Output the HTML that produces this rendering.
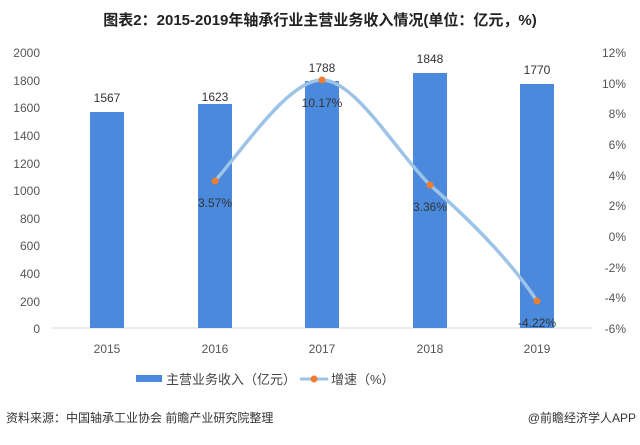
<!DOCTYPE html>
<html><head><meta charset="utf-8"><style>
body{margin:0;background:#fff;}
svg text{font-family:"Liberation Sans","Noto Sans CJK SC",sans-serif;}
</style></head><body>
<svg width="640" height="440" viewBox="0 0 640 440" xmlns="http://www.w3.org/2000/svg">
<rect width="640" height="440" fill="#fff"/>
<text x="320" y="25" text-anchor="middle" font-size="15" font-weight="bold" fill="#222">图表2：2015-2019年轴承行业主营业务收入情况(单位：亿元，%)</text>
<g font-size="12" fill="#555" text-anchor="end">
<text x="40" y="57">2000</text><text x="40" y="85">1800</text><text x="40" y="112">1600</text>
<text x="40" y="140">1400</text><text x="40" y="168">1200</text><text x="40" y="195">1000</text>
<text x="40" y="223">800</text><text x="40" y="250">600</text><text x="40" y="278">400</text>
<text x="40" y="306">200</text><text x="40" y="333">0</text>
</g>
<g font-size="12" fill="#555" text-anchor="end">
<text x="626" y="57">12%</text><text x="626" y="88">10%</text><text x="626" y="118">8%</text>
<text x="626" y="149">6%</text><text x="626" y="180">4%</text><text x="626" y="210">2%</text>
<text x="626" y="241">0%</text><text x="626" y="272">-2%</text><text x="626" y="302">-4%</text>
<text x="626" y="333">-6%</text>
</g>
<line x1="52" y1="328" x2="592" y2="328" stroke="#d9d9d9" stroke-width="1"/>
<g fill="#4a89dc">
<rect x="90" y="112" width="34" height="216"/>
<rect x="198" y="104" width="34" height="224"/>
<rect x="305" y="81" width="34" height="247"/>
<rect x="413" y="73" width="34" height="255"/>
<rect x="520" y="84" width="34" height="244"/>
</g>
<g font-size="12" fill="#333" text-anchor="middle">
<text x="107" y="102">1567</text><text x="215" y="101">1623</text><text x="322" y="72">1788</text>
<text x="430" y="63">1848</text><text x="537" y="74">1770</text>
</g>
<path d="M215,181 C250,140 290,80 322,80 C355,80 395,150 430,185 C470,220 510,260 537,301" fill="none" stroke="#9dc3e6" stroke-width="3.5" stroke-linecap="round"/>
<g fill="#ed7d31">
<circle cx="215" cy="181" r="3.5"/><circle cx="322" cy="80" r="3.5"/>
<circle cx="430" cy="185" r="3.5"/><circle cx="537" cy="301" r="3.5"/>
</g>
<g font-size="12" fill="#333" text-anchor="middle">
<text x="215" y="207">3.57%</text><text x="322" y="107">10.17%</text>
<text x="430" y="211">3.36%</text><text x="537" y="327">-4.22%</text>
</g>
<g font-size="12" fill="#555" text-anchor="middle">
<text x="107" y="353">2015</text><text x="215" y="353">2016</text><text x="322" y="353">2017</text>
<text x="430" y="353">2018</text><text x="537" y="353">2019</text>
</g>
<rect x="136" y="375" width="26" height="7" fill="#4a89dc"/>
<text x="166" y="384" font-size="13" fill="#444">主营业务收入（亿元）</text>
<line x1="300" y1="379" x2="328" y2="379" stroke="#9dc3e6" stroke-width="3"/>
<circle cx="314" cy="379" r="3.5" fill="#ed7d31"/>
<text x="331" y="384" font-size="13" fill="#444">增速（%）</text>
<text x="6" y="422" font-size="12" fill="#333">资料来源：中国轴承工业协会 前瞻产业研究院整理</text>
<text x="636" y="422" font-size="12" fill="#333" text-anchor="end">@前瞻经济学人APP</text>
</svg>
</body></html>
